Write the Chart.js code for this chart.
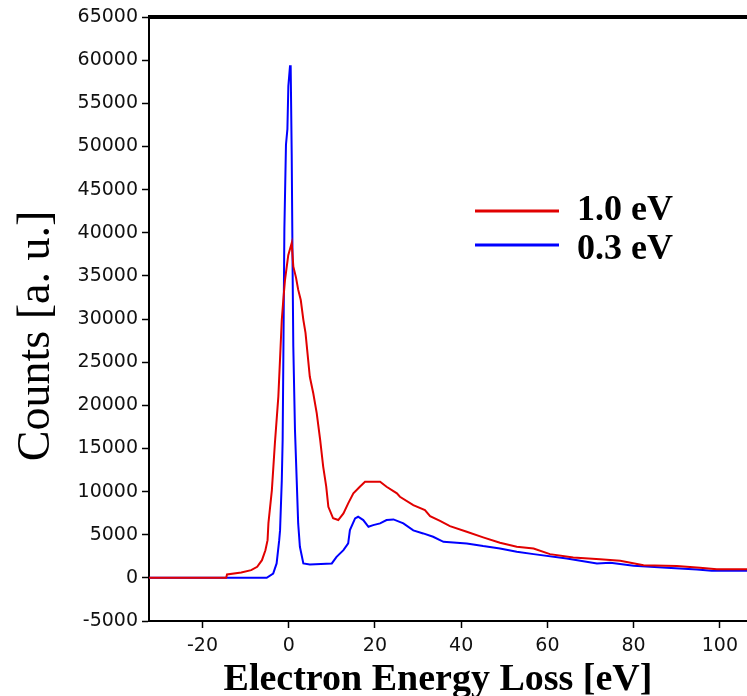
<!DOCTYPE html>
<html>
<head>
<meta charset="utf-8">
<script src="https://cdn.jsdelivr.net/npm/chart.js@4"></script>
<style>
  html, body { margin: 0; padding: 0; background: #fff; }
  #wrap { width: 747px; height: 696px; }
</style>
</head>
<body>
<div id="wrap"><canvas id="eels"></canvas></div>
<script>
// energy loss [eV] and counts, 1.0 eV resolution spectrum
var lossRed = [-32.4, -14.5, -14.3, -11, -8.7, -7.3, -6.2, -5.4, -4.9, -4.7, -3.9, -3.2, -2.4, -1.6, -1.25, -0.86, -0.1, 0.7,
  1.07, 1.7, 2.2, 2.8, 3.4, 3.9, 4.9, 5.7, 6.5, 7.3, 8.0, 8.7, 9.2, 10.3, 11.5, 12.7, 13.8, 15.0, 16.5, 17.7, 21.2,
  22.7, 25.1, 25.8, 28.9, 31.6, 32.8, 35.1, 37.4, 41.3, 45.1, 49.0, 52.9, 56.8, 60.6, 66.0, 72.2, 76.9, 82.3,
  90.0, 95.4, 99.3, 106.3];
var countsRed = [0, 0, 400, 620, 890, 1280, 2050, 3200, 4370, 6340, 10170, 15600, 21000, 29900, 32200, 34500, 37400, 38800,
  36100, 34800, 33400, 32200, 29900, 28400, 23300, 21400, 19100, 16000, 12900, 10600, 8240, 6900, 6700, 7470, 8630, 9790, 10560, 11140, 11140,
  10560, 9790, 9400, 8430, 7850, 7150, 6600, 5990, 5340, 4690, 4060, 3600, 3400, 2750, 2360, 2170, 1970, 1470,
  1360, 1160, 1010, 1010];

// 0.3 eV resolution spectrum
var lossBlue = [-32.4, -5.1, -3.6, -2.8, -2.2, -2.0, -1.6, -1.4, -1.25, -1.0, -0.63, -0.3, -0.08, 0.3, 0.46, 0.7, 0.93,
  1.07, 1.46, 1.86, 2.2, 2.6, 3.4, 4.9, 10.0, 11.1, 12.7, 13.8, 14.2, 15.4, 16.1, 17.3, 18.5, 19.6, 21.2, 22.7,
  24.3, 26.6, 28.9, 31.2, 33.5, 35.9, 41.3, 45.1, 49.0, 52.9, 56.8, 64.5, 71.5, 74.6, 80.0, 87.7, 94.7, 98.1, 106.3];
var countsBlue = [0, 0, 500, 1670, 4370, 5530, 11300, 16000, 24900, 40500, 50200, 52000, 57000, 59300, 59300, 49000, 34500,
  26800, 17100, 11300, 6310, 3600, 1670, 1550, 1670, 2440, 3210, 3990, 5530, 6890, 7080, 6700, 5920, 6110, 6310, 6700,
  6770, 6310, 5500, 5150, 4760, 4180, 3990, 3680, 3410, 3020, 2750, 2250, 1670, 1740, 1390, 1160, 970, 810, 810];

var seriesNames = ['1.0 eV', '0.3 eV'];
var xTicks = [-20, 0, 20, 40, 60, 80, 100];
var xTitle = 'Electron Energy Loss [eV]';
var yTitle = 'Counts [a. u.]';

function pairs(xs, ys) {
  return xs.map(function(x, i){ return {x: x, y: ys[i]}; });
}

var serif = '"Liberation Serif", "Times New Roman", serif';

// thick frame line along the top, axis titles and the legend
var extras = {
  id: 'extras',
  afterDraw: function(chart) {
    var ctx = chart.ctx, a = chart.chartArea;
    ctx.save();
    ctx.strokeStyle = '#000';
    ctx.lineWidth = 4;
    ctx.beginPath();
    ctx.moveTo(a.left - 1, a.top);
    ctx.lineTo(a.right, a.top);
    ctx.stroke();

    ctx.fillStyle = '#000';
    ctx.textBaseline = 'alphabetic';
    ctx.textAlign = 'center';
    ctx.font = 'bold 38px ' + serif;
    ctx.fillText(xTitle, 438, 690);

    ctx.save();
    ctx.translate(49, 336);
    ctx.rotate(-Math.PI / 2);
    ctx.font = '46px ' + serif;
    ctx.fillText(yTitle, 0, 0);
    ctx.restore();

    var rows = [{y: 211, base: 220}, {y: 245, base: 259}];
    ctx.textAlign = 'left';
    ctx.font = 'bold 36px ' + serif;
    chart.data.datasets.forEach(function(ds, i){
      ctx.strokeStyle = ds.borderColor;
      ctx.lineWidth = 3;
      ctx.beginPath();
      ctx.moveTo(475, rows[i].y);
      ctx.lineTo(559, rows[i].y);
      ctx.stroke();
      ctx.fillText(ds.label, 577, rows[i].base);
    });
    ctx.restore();
  }
};

var tickFont = {family: '"DejaVu Sans", sans-serif', size: 19};

new Chart(document.getElementById('eels').getContext('2d'), {
  type: 'line',
  data: {
    datasets: [
      { label: seriesNames[0], data: pairs(lossRed, countsRed), borderColor: 'rgb(225,0,0)', borderWidth: 2, pointRadius: 0, tension: 0 },
      { label: seriesNames[1], data: pairs(lossBlue, countsBlue), borderColor: 'rgb(0,0,255)', borderWidth: 2, pointRadius: 0, tension: 0 }
    ]
  },
  options: {
    responsive: true,
    maintainAspectRatio: false,
    animation: false,
    layout: { padding: { top: 17, right: 0, left: 0, bottom: 0 } },
    plugins: { legend: { display: false }, tooltip: { enabled: false } },
    scales: {
      x: {
        type: 'linear',
        min: -32.4,
        max: 106.3,
        afterBuildTicks: function(scale){ scale.ticks = xTicks.map(function(v){ return {value: v}; }); },
        afterFit: function(scale){ scale.height = 75; },
        grid: { drawOnChartArea: false, tickLength: 7, tickColor: '#000', tickWidth: 1.5 },
        border: { color: '#000', width: 2 },
        ticks: { color: '#111', font: tickFont, padding: 7, maxRotation: 0 }
      },
      y: {
        min: -5000,
        max: 65000,
        afterFit: function(scale){ scale.width = 149; },
        grid: { drawOnChartArea: false, tickLength: 7, tickColor: '#000', tickWidth: 1.5 },
        border: { color: '#000', width: 2 },
        ticks: { stepSize: 5000, color: '#111', font: tickFont, padding: 4,
          callback: function(v){ return String(v); } }
      }
    }
  },
  plugins: [extras]
});
</script>
</body>
</html>
